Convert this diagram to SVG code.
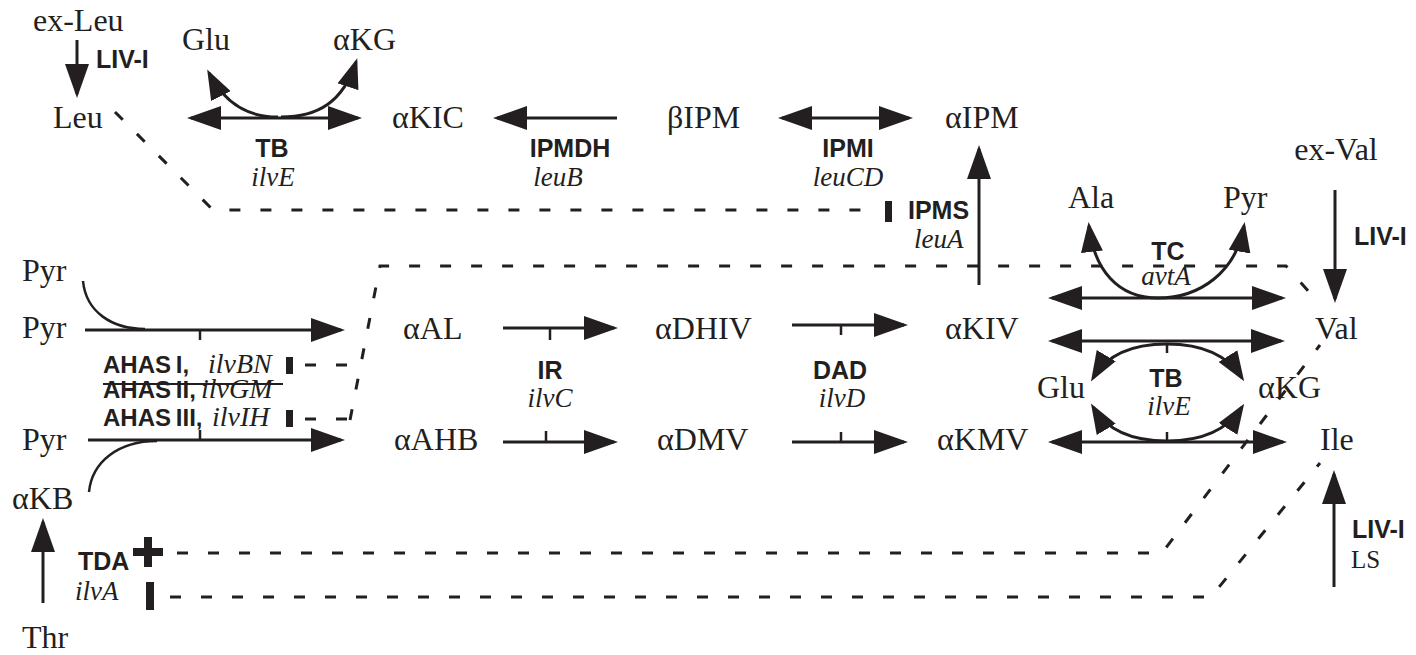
<svg xmlns="http://www.w3.org/2000/svg" width="1416" height="655" viewBox="0 0 1416 655">
<style>
.m{font-family:"Liberation Serif","Times New Roman",serif;font-size:32px;fill:#231f20}
.e{font-family:"Liberation Sans",Arial,sans-serif;font-weight:bold;font-size:25px;fill:#231f20}
.a{font-family:"Liberation Sans",Arial,sans-serif;font-weight:bold;font-size:24px;fill:#231f20}
.g{font-family:"Liberation Serif","Times New Roman",serif;font-style:italic;font-size:27px;fill:#231f20}
.g2{font-family:"Liberation Serif","Times New Roman",serif;font-style:italic;font-size:28px;fill:#231f20}
.s{font-family:"Liberation Serif","Times New Roman",serif;font-size:25px;fill:#231f20}
.c{text-anchor:middle}
.ln{stroke:#231f20;stroke-width:3;fill:none}
.th{stroke:#231f20;stroke-width:2.5;fill:none}
.ar{marker-end:url(#ah)}
.da{marker-start:url(#ah);marker-end:url(#ah)}
.cv{stroke:#231f20;stroke-width:3;fill:none;marker-end:url(#sh)}
.d{stroke:#231f20;stroke-width:3;fill:none;stroke-dasharray:11 20}
.b{fill:#231f20}
</style>
<defs>
<marker id="ah" markerUnits="userSpaceOnUse" viewBox="0 0 34 24" markerWidth="34" markerHeight="24" refX="30" refY="12" orient="auto-start-reverse"><path d="M0,0 L34,12 L0,24 z" fill="#231f20"/></marker>
<marker id="sh" markerUnits="userSpaceOnUse" viewBox="0 0 30 22" markerWidth="30" markerHeight="22" refX="26" refY="11" orient="auto"><path d="M0,0 L30,11 L0,22 z" fill="#231f20"/></marker>
</defs>

<g id="connectors">
  <path class="ln ar" d="M77,40 V94"/>
  <path class="ln da" d="M191,118 H358"/>
  <path class="cv" d="M278,117 C250,117 226,106 209,73"/>
  <path class="cv" d="M281,117 C318,117 343,102 356,62"/>
  <path class="ln ar" d="M617,118 H497"/>
  <path class="ln da" d="M782,118 H909"/>
  <path class="ln ar" d="M979,285 V149"/>
  <path class="d" d="M115,112 L213,210 H872"/>
  <rect class="b" x="885" y="201" width="7" height="21"/>
  <path class="th" d="M83,281 C86,312 112,329 145,329"/>
  <path class="ln ar" d="M85,330 H341"/>
  <path class="th" d="M200,330 V340"/>
  <path class="th" d="M89,492 C92,462 118,441 157,441"/>
  <path class="ln ar" d="M88,440 H341"/>
  <path class="th" d="M200,430 V440"/>
  <path class="ln ar" d="M503,328 H614"/>
  <path class="th" d="M550,328 V340"/>
  <path class="ln ar" d="M792,325 H904"/>
  <path class="th" d="M841,326 V335"/>
  <path class="ln ar" d="M503,442 H614"/>
  <path class="th" d="M546,431 V442"/>
  <path class="ln ar" d="M792,442 H904"/>
  <path class="th" d="M841,432 V442"/>
  <path class="ln da" d="M1052,298 H1282"/>
  <path class="cv" d="M1158,298 C1118,298 1094,270 1089,226"/>
  <path class="cv" d="M1158,298 C1200,298 1236,272 1244,226"/>
  <path class="ln da" d="M1052,341 H1281"/>
  <path class="ln da" d="M1052,442 H1283"/>
  <path class="cv" d="M1167,344 C1130,344 1106,356 1093,378"/>
  <path class="cv" d="M1167,344 C1204,344 1228,356 1242,378"/>
  <path class="cv" d="M1167,441 C1130,441 1106,429 1093,407"/>
  <path class="cv" d="M1167,441 C1204,441 1228,429 1242,407"/>
  <path class="th" d="M1167,343 V353"/>
  <path class="th" d="M1167,432 V442"/>
  <path class="ln ar" d="M1335,190 V299"/>
  <path class="ln ar" d="M43,603 V522"/>
  <path class="ln ar" d="M1334,587 V474"/>
  <path class="d" d="M305,365 H350"/>
  <path class="d" d="M305,419 H350"/>
  <path class="d" d="M350,420 L380,266 H1286 L1318,302"/>
  <rect class="b" x="286" y="357" width="7" height="17"/>
  <rect class="b" x="286" y="410" width="7" height="17"/>
  <path class="d" d="M177,553 H1162 L1320,345"/>
  <path class="d" d="M170,597 H1211 L1320,463"/>
  <rect class="b" x="133" y="548" width="30" height="8"/>
  <rect class="b" x="144" y="537" width="8" height="30"/>
  <rect class="b" x="146" y="582" width="8" height="28"/>
  <path stroke="#231f20" stroke-width="2" d="M103,384 H283"/>
</g>

<g id="n-exLeu"><text class="m" x="33" y="31">ex-Leu</text></g>
<g id="n-livi-leu"><text class="e" x="96" y="68">LIV-I</text></g>
<g id="n-Leu"><text class="m" x="53" y="128">Leu</text></g>
<g id="n-Glu1"><text class="m" x="182" y="50">Glu</text></g>
<g id="n-aKG1"><text class="m" x="333" y="50">αKG</text></g>
<g id="e-TB1"><text class="e c" x="272" y="157">TB</text><text class="g c" x="273" y="186">ilvE</text></g>
<g id="n-aKIC"><text class="m" x="392" y="128">αKIC</text></g>
<g id="e-IPMDH"><text class="e c" x="570" y="157">IPMDH</text><text class="g c" x="558" y="186">leuB</text></g>
<g id="n-bIPM"><text class="m" x="667" y="128">βIPM</text></g>
<g id="e-IPMI"><text class="e c" x="848" y="157">IPMI</text><text class="g c" x="848" y="186">leuCD</text></g>
<g id="n-aIPM"><text class="m" x="945" y="128">αIPM</text></g>
<g id="e-IPMS"><text class="e" x="908" y="219">IPMS</text><text class="g" x="914" y="248">leuA</text></g>
<g id="n-exVal"><text class="m c" x="1336" y="160">ex-Val</text></g>
<g id="n-livi-val"><text class="e" x="1354" y="245">LIV-I</text></g>
<g id="n-Ala"><text class="m" x="1068" y="208">Ala</text></g>
<g id="n-Pyr4"><text class="m" x="1223" y="208">Pyr</text></g>
<g id="e-TC"><text class="e c" x="1168" y="260">TC</text><text class="g c" x="1166" y="285">avtA</text></g>
<g id="n-Pyr1"><text class="m" x="22" y="281">Pyr</text></g>
<g id="n-Pyr2"><text class="m" x="22" y="338">Pyr</text></g>
<g id="n-Pyr3"><text class="m" x="22" y="450">Pyr</text></g>
<g id="n-aKB"><text class="m" x="12" y="509">αKB</text></g>
<g id="n-Thr"><text class="m" x="22" y="648">Thr</text></g>
<g id="e-TDA"><text class="e" x="78" y="570">TDA</text><text class="g" x="75" y="600">ilvA</text></g>
<g id="e-AHAS"><text class="a" x="103" y="373">AHAS&#8201;I,</text><text class="g2" x="208" y="373">ilvBN</text>
<text class="a" x="103" y="398">AHAS&#8201;II,</text><text class="g2" x="201" y="398">ilvGM</text>
<text class="a" x="103" y="426">AHAS&#8201;III,</text><text class="g2" x="212" y="426">ilvIH</text></g>
<g id="n-aAL"><text class="m" x="403" y="339">αAL</text></g>
<g id="n-aDHIV"><text class="m" x="655" y="339">αDHIV</text></g>
<g id="n-aKIV"><text class="m" x="945" y="339">αKIV</text></g>
<g id="n-Val"><text class="m" x="1315" y="339">Val</text></g>
<g id="e-IR"><text class="e c" x="550" y="379">IR</text><text class="g c" x="550" y="407">ilvC</text></g>
<g id="e-DAD"><text class="e c" x="840" y="379">DAD</text><text class="g c" x="842" y="407">ilvD</text></g>
<g id="n-aAHB"><text class="m" x="394" y="450">αAHB</text></g>
<g id="n-aDMV"><text class="m" x="657" y="450">αDMV</text></g>
<g id="n-aKMV"><text class="m" x="937" y="450">αKMV</text></g>
<g id="n-Ile"><text class="m" x="1320" y="450">Ile</text></g>
<g id="n-Glu2"><text class="m" x="1037" y="398">Glu</text></g>
<g id="n-aKG2"><text class="m" x="1258" y="398">αKG</text></g>
<g id="e-TB2"><text class="e c" x="1166" y="387">TB</text><text class="g c" x="1169" y="415">ilvE</text></g>
<g id="n-livi-ile"><text class="e" x="1352" y="538">LIV-I</text><text class="s" x="1351" y="568">LS</text></g>
</svg>
